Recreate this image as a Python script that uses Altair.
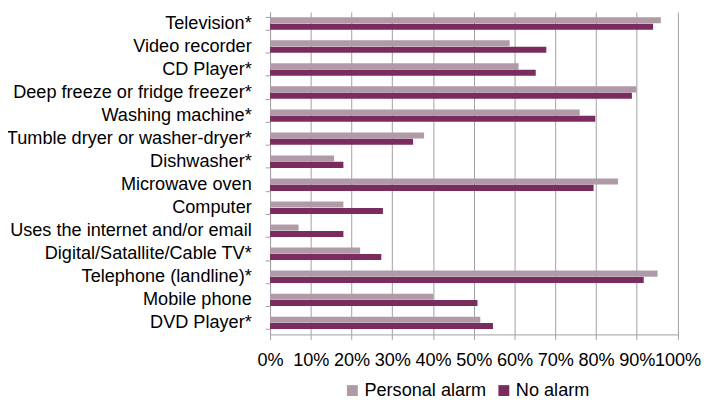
import altair as alt
import pandas as pd

categories = [
    "Television*",
    "Video recorder",
    "CD Player*",
    "Deep freeze or fridge freezer*",
    "Washing machine*",
    "Tumble dryer or washer-dryer*",
    "Dishwasher*",
    "Microwave oven",
    "Computer",
    "Uses the internet and/or email",
    "Digital/Satallite/Cable TV*",
    "Telephone (landline)*",
    "Mobile phone",
    "DVD Player*",
]
personal_alarm = [0.959, 0.588, 0.610, 0.899, 0.760, 0.378, 0.157, 0.854, 0.180, 0.070, 0.221, 0.951, 0.401, 0.516]
no_alarm = [0.940, 0.678, 0.652, 0.888, 0.798, 0.351, 0.180, 0.794, 0.277, 0.180, 0.273, 0.917, 0.509, 0.547]
series = ["Personal alarm", "No alarm"]
colors = ["#B09AA8", "#7A2C5E"]
x_ticks = [0, 0.1, 0.2, 0.3, 0.4, 0.5, 0.6, 0.7, 0.8, 0.9, 1.0]

rows = []
for c, p, n in zip(categories, personal_alarm, no_alarm):
    rows.append({"item": c, "series": series[0], "value": p})
    rows.append({"item": c, "series": series[1], "value": n})
df = pd.DataFrame(rows)

FONT = "Liberation Sans"
GRID = "#A0A0A0"

chart = (
    alt.Chart(df)
    .mark_bar()
    .encode(
        x=alt.X(
            "value:Q",
            scale=alt.Scale(domain=[0, 1], nice=False),
            axis=alt.Axis(
                values=x_ticks,
                format=".0%",
                title=None,
                grid=True,
                gridColor=GRID,
                gridWidth=1,
                domainColor=GRID,
                tickColor=GRID,
                tickSize=5,
                labelPadding=12,
                labelFont=FONT,
                labelFontSize=18.3,
                labelColor="#000000",
                labelFlush=False,
                labelOverlap=False,
            ),
        ),
        y=alt.Y(
            "item:N",
            sort=categories,
            scale=alt.Scale(paddingInner=0.46, paddingOuter=0.23),
            axis=alt.Axis(
                title=None,
                tickBand="extent",
                grid=False,
                domainColor=GRID,
                tickColor=GRID,
                tickSize=5,
                labelPadding=14,
                labelFont=FONT,
                labelFontSize=18.3,
                labelColor="#000000",
                labelLimit=400,
            ),
        ),
        yOffset=alt.YOffset("series:N", sort=series, scale=alt.Scale(paddingInner=0.05)),
        color=alt.Color(
            "series:N",
            sort=series,
            scale=alt.Scale(domain=series, range=colors),
            legend=alt.Legend(
                title=None,
                orient="none",
                direction="horizontal",
                legendX=74,
                legendY=373,
                symbolType="square",
                symbolSize=121,
                symbolStrokeWidth=0,
                symbolOpacity=1,
                labelFont=FONT,
                labelFontSize=18.3,
                labelColor="#000000",
                labelOffset=3,
                columnPadding=8,
                padding=0,
            ),
        ),
    )
    .properties(
        width=411.6,
        height=325.7,
        autosize=alt.AutoSizeParams(type="none"),
        padding={"left": 264.7, "top": 2, "right": 23.7, "bottom": 72},
    )
    .configure_view(stroke=None)
)

chart.save("out.html", embed_options={"renderer": "svg", "actions": False})
